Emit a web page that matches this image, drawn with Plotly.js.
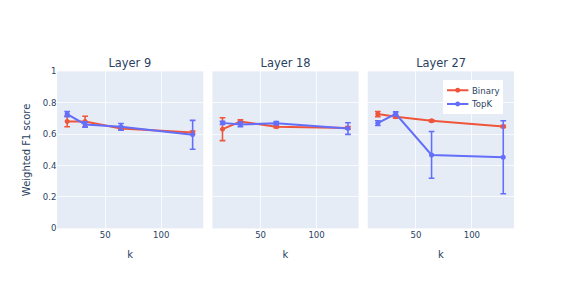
<!DOCTYPE html>
<html>
<head>
<meta charset="utf-8">
<script src="https://cdn.plot.ly/plotly-3.0.1.min.js"></script>
<style>
html,body{margin:0;padding:0;background:#fff;overflow:hidden;width:571px;height:286px;}
#chart{width:800px;height:400px;transform:scale(0.71375);transform-origin:0 0;}
</style>
</head>
<body>
<div id="chart"></div>
<script>
const kValues = [16, 32, 64, 128];
const layers = ["Layer 9", "Layer 18", "Layer 27"];

const binaryMean = [
  [0.681, 0.680, 0.636, 0.610],
  [0.632, 0.681, 0.647, 0.640],
  [0.728, 0.711, 0.685, 0.649]
];
const binaryErr = [
  [0.034, 0.034, 0.010, 0.010],
  [0.073, 0.010, 0.006, 0.008],
  [0.017, 0.010, 0.006, 0.006]
];
const topkMean = [
  [0.728, 0.662, 0.647, 0.596],
  [0.672, 0.662, 0.670, 0.636],
  [0.670, 0.730, 0.468, 0.453]
];
const topkErr = [
  [0.016, 0.017, 0.021, 0.092],
  [0.010, 0.015, 0.010, 0.037],
  [0.015, 0.012, 0.149, 0.232]
];

const colors = {Binary: "#EF553B", TopK: "#636EFA"};
const domains = [[0, 0.32], [0.34, 0.66], [0.68, 1]];

const traces = [];
const layout = {
  width: 800, height: 400,
  margin: {l: 80, r: 80, t: 100, b: 80},
  paper_bgcolor: "#fff",
  plot_bgcolor: "#E5ECF6",
  font: {family: "DejaVu Sans, sans-serif", size: 12, color: "#2a3f5f"},
  showlegend: true,
  legend: {x: 0.977, xanchor: "right", y: 0.945, yanchor: "top", bgcolor: "#fff",
           tracegroupgap: 0},
  annotations: []
};

layers.forEach((name, i) => {
  const xa = i === 0 ? "x" : "x" + (i + 1);
  const ya = i === 0 ? "y" : "y" + (i + 1);
  traces.push({
    x: kValues, y: binaryMean[i], xaxis: xa, yaxis: ya,
    type: "scatter", mode: "lines+markers", name: "Binary",
    showlegend: i === 0,
    line: {color: colors.Binary, width: 2.8}, marker: {size: 7, color: colors.Binary},
    error_y: {type: "data", array: binaryErr[i], visible: true, color: colors.Binary, thickness: 2.2, width: 4}
  });
  traces.push({
    x: kValues, y: topkMean[i], xaxis: xa, yaxis: ya,
    type: "scatter", mode: "lines+markers", name: "TopK",
    showlegend: i === 0,
    line: {color: colors.TopK, width: 2.8}, marker: {size: 7, color: colors.TopK},
    error_y: {type: "data", array: topkErr[i], visible: true, color: colors.TopK, thickness: 2.2, width: 4}
  });
  const xk = i === 0 ? "xaxis" : "xaxis" + (i + 1);
  const yk = i === 0 ? "yaxis" : "yaxis" + (i + 1);
  layout[xk] = {
    domain: domains[i], anchor: ya,
    title: {text: "k", font: {size: 14}, standoff: 16},
    gridcolor: "#fff", gridwidth: 1.4, zeroline: false, tickvals: [50, 100],
    range: [7, 137.5]
  };
  layout[yk] = {
    domain: [0, 1], anchor: xa, range: [0, 1],
    gridcolor: "#fff", gridwidth: 1.4, zeroline: false, dtick: 0.2,
    showticklabels: i === 0
  };
  if (i === 0) {
    layout[yk].title = {text: "Weighted F1 score", font: {size: 14}};
  } else {
    layout[yk].matches = "y";
  }
  layout.annotations.push({
    text: name, xref: "paper", yref: "paper",
    x: (domains[i][0] + domains[i][1]) / 2, y: 1,
    xanchor: "center", yanchor: "bottom", showarrow: false,
    font: {size: 16}
  });
});

Plotly.newPlot("chart", traces, layout, {displayModeBar: false});
</script>
</body>
</html>
